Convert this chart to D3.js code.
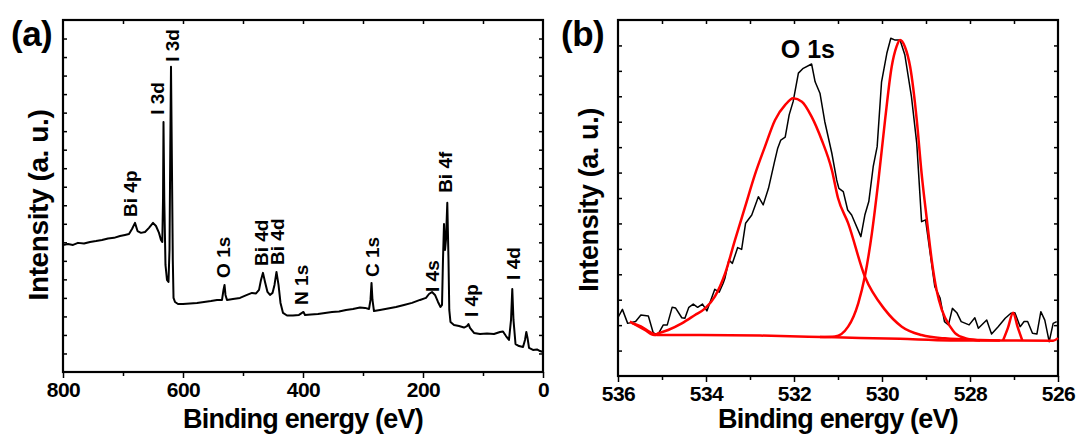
<!DOCTYPE html>
<html>
<head>
<meta charset="utf-8">
<script src="https://cdn.jsdelivr.net/npm/d3@7/dist/d3.min.js"></script>
<style>
  body { margin: 0; background: #fff; }
  svg text { font-family: "Liberation Sans", Arial, sans-serif; font-weight: bold; fill: #000; }
</style>
</head>
<body>
<svg id="chart" width="1081" height="438"></svg>
<script>
// (a) survey spectrum, binding energy (eV) vs intensity (a. u.)
const surveyEnergy = [800, 791.7, 783.3, 775, 765, 755, 745, 735, 725, 715, 705, 696.7, 690, 685, 680, 675.8, 670, 663.3, 656.7, 650, 645, 640, 636.7, 634.5, 633.3, 632.5, 631.2, 629.2, 626.7, 624.2, 622.5, 621.2, 620, 618.7, 617, 615.8, 613.3, 608.3, 600, 588.3, 576.7, 565, 553.3, 543.3, 535, 532.5, 530.8, 529.2, 526.7, 516.7, 505, 493.3, 485, 478.3, 473.3, 470, 466.7, 463.3, 459.2, 455, 450.8, 447.5, 444.2, 440.8, 437.5, 433.3, 426.7, 416.7, 406.7, 401.7, 399.2, 396.7, 386.7, 375, 363.3, 351.7, 340, 328.3, 316.7, 305, 296.7, 290, 287.5, 285.8, 284.2, 281.7, 271.7, 258.3, 245, 231.7, 218.3, 205, 195, 190, 185, 180, 175, 170.8, 168.3, 166.7, 165, 163.3, 161.7, 159.5, 157.5, 156.2, 154.2, 148.3, 140, 131.7, 126.7, 124.2, 121.7, 115, 105, 93.3, 81.7, 71.7, 66.7, 61.7, 56.7, 53.3, 51.2, 49.2, 45.8, 40, 33.3, 30, 27.8, 25.8, 23.3, 16.7, 10, 5, 0];
const surveyCounts = [68.6, 69.1, 68.6, 69.7, 69.4, 70.2, 70.7, 71.3, 72.1, 72.4, 73.4, 74.0, 74.5, 77.2, 80.5, 76.1, 75.1, 75.6, 77.8, 80.5, 78.8, 75.1, 71.3, 70.2, 92.9, 135.0, 92.9, 57.8, 49.7, 48.6, 65.9, 119.9, 164.7, 119.9, 60.5, 40.0, 37.8, 36.7, 36.7, 37.0, 37.3, 37.8, 38.3, 38.9, 38.9, 44.3, 47.0, 41.6, 38.9, 39.4, 40.0, 41.6, 42.7, 42.4, 44.3, 49.7, 53.5, 48.6, 43.2, 41.6, 42.7, 47.0, 54.0, 47.0, 37.3, 31.9, 30.5, 30.5, 30.8, 31.9, 32.4, 30.8, 31.1, 31.3, 31.9, 32.4, 32.7, 33.5, 34.0, 34.8, 34.6, 34.0, 38.9, 48.1, 38.9, 32.9, 33.5, 34.3, 35.1, 36.2, 37.3, 38.9, 40.0, 42.1, 43.2, 41.6, 37.8, 35.1, 36.2, 60.5, 79.9, 65.9, 71.3, 91.3, 60.5, 33.5, 27.0, 25.4, 24.8, 24.0, 24.8, 25.9, 23.8, 21.1, 20.5, 20.8, 20.5, 21.6, 21.9, 19.4, 17.3, 28.1, 44.8, 28.1, 15.1, 14.0, 13.5, 17.3, 21.6, 18.4, 13.0, 11.9, 12.2, 11.3, 10.8];

// peak assignments in (a)
const surveyLabels = ["Bi 4p", "I 3d", "I 3d", "O 1s", "Bi 4d", "Bi 4d", "N 1s", "C 1s", "I 4s", "Bi 4f", "I 4p", "I 4d"];
const surveyLabelEnergy = [686.7, 643.3, 616.7, 533.3, 470, 441.7, 401.7, 285, 185, 163.3, 120, 50];
const surveyLabelCounts = [83.7, 138.8, 167.4, 50.8, 57.2, 57.8, 36.2, 51.3, 43.2, 96.7, 29.7, 49.7];

const surveyTicks = [800, 600, 400, 200, 0];
const surveyMinorTicks = [700, 500, 300, 100];

// (b) O 1s high resolution spectrum
const o1sEnergy = [535.99, 535.90, 535.78, 535.60, 535.48, 535.31, 535.20, 535.10, 534.97, 534.88, 534.77, 534.69, 534.55, 534.48, 534.39, 534.29, 534.19, 534.08, 533.98, 533.80, 533.70, 533.61, 533.57, 533.48, 533.40, 533.28, 533.19, 533.10, 532.96, 532.81, 532.70, 532.58, 532.45, 532.37, 532.30, 532.20, 532.11, 532.02, 531.90, 531.79, 531.60, 531.52, 531.41, 531.30, 531.14, 531.03, 530.98, 530.88, 530.78, 530.69, 530.48, 530.39, 530.30, 530.20, 530.11, 530.01, 529.89, 529.80, 529.70, 529.59, 529.48, 529.33, 529.21, 529.10, 529.01, 528.80, 528.68, 528.58, 528.49, 528.40, 528.30, 528.20, 528.02, 527.89, 527.81, 527.62, 527.51, 527.36, 527.20, 527.07, 526.98, 526.86, 526.77, 526.69, 526.58, 526.48, 526.39, 526.30, 526.20, 526.11, 526.03];
const o1sCounts = [23.3, 26.2, 20.7, 21.4, 24.0, 23.6, 17.0, 16.1, 20.1, 20.1, 27.0, 26.7, 22.9, 22.7, 27.0, 28.3, 27.0, 28.3, 25.6, 34.1, 33.0, 36.5, 38.4, 45.6, 44.3, 50.5, 49.8, 60.1, 63.3, 70.5, 67.3, 73.8, 83.7, 89.6, 92.8, 93.9, 102.7, 107.9, 119.1, 121.0, 122.7, 115.7, 111.2, 100.0, 87.6, 77.1, 73.8, 72.5, 65.3, 63.3, 54.8, 63.3, 68.6, 82.3, 90.2, 115.7, 126.9, 132.8, 132.1, 132.1, 126.2, 109.8, 91.5, 60.7, 61.4, 35.1, 30.6, 21.4, 20.1, 26.6, 24.9, 21.4, 20.1, 22.9, 18.8, 22.0, 16.5, 19.4, 22.7, 24.7, 24.9, 19.4, 21.4, 21.4, 16.8, 16.5, 25.3, 22.0, 13.5, 20.7, 21.4];

// fitted background and components
const bgEnergy = [535.68, 535.48, 535.27, 535.11, 534.14, 532.77, 531.07, 529.59, 528.45, 526.11, 526.0];
const bgCounts = [20.8, 19.5, 17.3, 16.1, 16.1, 15.9, 15.2, 14.6, 14.0, 13.9, 14.9];

const fit1Energy = [535.73, 535.39, 535.18, 535.08, 534.86, 534.55, 534.25, 534.02, 533.80, 533.57, 533.34, 533.11, 532.89, 532.66, 532.43, 532.20, 532.02, 531.82, 531.60, 531.37, 531.14, 531.00, 530.77, 530.39, 529.93, 529.55, 529.10, 528.57, 527.77, 527.32];
const fit1Counts = [21.4, 18.1, 16.1, 16.8, 18.1, 20.7, 24.0, 26.6, 31.2, 40.1, 53.5, 66.6, 79.1, 90.2, 100.7, 106.6, 109.2, 107.9, 102.0, 92.8, 81.0, 70.0, 60.1, 39.1, 26.0, 19.4, 16.1, 14.8, 14.2, 14.0];

const fit2Energy = [531.41, 531.07, 530.77, 530.54, 530.39, 530.23, 530.08, 529.93, 529.78, 529.67, 529.59, 529.48, 529.36, 529.21, 529.10, 528.98, 528.87, 528.76, 528.64, 528.45, 528.34, 528.11, 527.77];
const fit2Counts = [15.3, 15.5, 19.4, 28.6, 39.1, 56.1, 77.1, 100.7, 121.6, 129.5, 132.1, 129.5, 121.6, 100.7, 79.7, 61.4, 45.6, 33.8, 26.0, 19.4, 16.9, 14.9, 14.0];

const fit3Energy = [527.25, 527.14, 527.02, 526.92, 526.81];
const fit3Counts = [13.9, 18.8, 24.9, 19.4, 13.9];

const o1sTicks = [536, 534, 532, 530, 528, 526];
const o1sMinorTicks = [535, 533, 531, 529, 527];

const svg = d3.select("#chart");

function drawFrame(cfg) {
    const x = d3.scaleLinear().domain(cfg.xDomain).range([cfg.left, cfg.right]);
    const y = d3.scaleLinear().domain(cfg.yDomain).range([cfg.bottom, cfg.top]);

    // bottom axis, labelled ticks point out
    const bottom = svg.append("g")
        .attr("transform", "translate(0," + cfg.bottom + ")")
        .call(d3.axisBottom(x).tickValues(cfg.ticks).tickSize(6).tickPadding(4).tickFormat(d3.format("d")));
    svg.append("g")
        .attr("transform", "translate(0," + cfg.bottom + ")")
        .call(d3.axisBottom(x).tickValues(cfg.minorTicks).tickSize(4).tickFormat(""));
    bottom.selectAll("text")
        .style("font-size", "21px")
        .style("letter-spacing", "-0.5px");

    // top + side ticks point in
    svg.append("g")
        .attr("transform", "translate(0," + cfg.top + ")")
        .call(d3.axisBottom(x).tickValues(cfg.topTicks).tickSize(4).tickFormat(""));
    svg.append("g")
        .attr("transform", "translate(" + cfg.left + ",0)")
        .call(d3.axisRight(y).tickValues(cfg.yTicks).tickSize(4).tickFormat(""));
    svg.append("g")
        .attr("transform", "translate(" + cfg.right + ",0)")
        .call(d3.axisLeft(y).tickValues(cfg.yTicks).tickSize(4).tickFormat(""));

    svg.selectAll(".domain").remove();
    svg.selectAll(".tick line").attr("stroke", "#000").attr("stroke-width", 1.5);

    svg.append("rect")
        .attr("x", cfg.left)
        .attr("y", cfg.top)
        .attr("width", cfg.right - cfg.left)
        .attr("height", cfg.bottom - cfg.top)
        .attr("fill", "none")
        .attr("stroke", "#000")
        .attr("stroke-width", 2.2);

    // axis titles
    svg.append("text")
        .attr("x", (cfg.left + cfg.right) / 2 + cfg.titleShift)
        .attr("y", 428)
        .attr("text-anchor", "middle")
        .style("font-size", "27px")
        .style("letter-spacing", "-0.8px")
        .text("Binding energy (eV)");
    svg.append("text")
        .attr("transform", "translate(" + cfg.yTitleX + "," + cfg.yTitleY + ") rotate(-90)")
        .attr("text-anchor", "middle")
        .style("font-size", cfg.yTitleSize + "px")
        .style("letter-spacing", "-0.4px")
        .text("Intensity (a. u.)");
    svg.append("text")
        .attr("x", cfg.tagX)
        .attr("y", 46)
        .style("font-size", "35px")
        .style("letter-spacing", "-0.5px")
        .text(cfg.tag);

    return { x: x, y: y };
}

function drawLine(scales, energy, counts, color, width, curve) {
    const line = d3.line()
        .x(d => scales.x(d[0]))
        .y(d => scales.y(d[1]))
        .curve(curve || d3.curveLinear);
    svg.append("path")
        .datum(d3.zip(energy, counts))
        .attr("d", line)
        .attr("fill", "none")
        .attr("stroke", color)
        .attr("stroke-width", width)
        .attr("stroke-linejoin", "round");
}

// panel (a)
const a = drawFrame({
    xDomain: [800, 0], yDomain: [0, 190],
    left: 63, right: 543, top: 20, bottom: 372,
    ticks: surveyTicks, minorTicks: surveyMinorTicks,
    topTicks: d3.range(700, 0, -100), yTicks: d3.range(10, 190, 10),
    titleShift: 0, yTitleX: 48, yTitleY: 205, yTitleSize: 28,
    tag: "(a)", tagX: 11
});
drawLine(a, surveyEnergy, surveyCounts, "#000", 2);

svg.selectAll(".peak")
    .data(d3.range(surveyLabels.length))
    .enter()
    .append("text")
    .attr("class", "peak")
    .attr("transform", i => "translate(" + a.x(surveyLabelEnergy[i]) + "," + a.y(surveyLabelCounts[i]) + ") rotate(-90)")
    .attr("dominant-baseline", "central")
    .style("font-size", "19px")
    .text(i => surveyLabels[i]);

// panel (b)
const b = drawFrame({
    xDomain: [536, 526], yDomain: [0, 140],
    left: 618, right: 1058, top: 20, bottom: 376,
    ticks: o1sTicks, minorTicks: o1sMinorTicks,
    topTicks: d3.range(535, 526, -1), yTicks: d3.range(10, 140, 10),
    titleShift: 0, yTitleX: 598, yTitleY: 200, yTitleSize: 27,
    tag: "(b)", tagX: 561
});
drawLine(b, o1sEnergy, o1sCounts, "#000", 1.5);
drawLine(b, bgEnergy, bgCounts, "#ff0000", 2.5, d3.curveMonotoneX);
drawLine(b, fit1Energy, fit1Counts, "#ff0000", 2.5, d3.curveMonotoneX);
drawLine(b, fit2Energy, fit2Counts, "#ff0000", 2.5, d3.curveMonotoneX);
drawLine(b, fit3Energy, fit3Counts, "#ff0000", 2.5, d3.curveMonotoneX);

svg.append("text")
    .attr("x", b.x(532.3))
    .attr("y", 58)
    .style("font-size", "25px")
    .text("O 1s");
</script>
</body>
</html>
